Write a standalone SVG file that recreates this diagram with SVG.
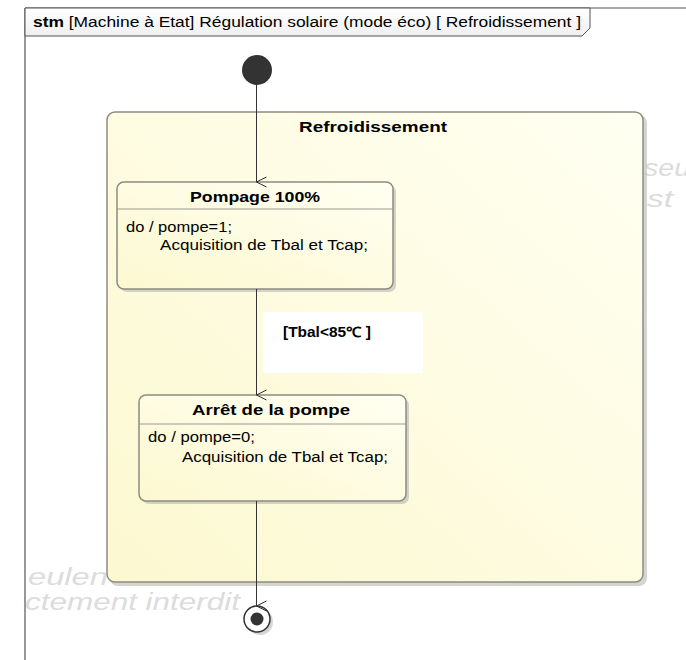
<svg xmlns="http://www.w3.org/2000/svg" width="686" height="660" viewBox="0 0 686 660">
<defs>
<linearGradient id="yel" x1="0" y1="1" x2="1" y2="0">
<stop offset="0" stop-color="#fcf8d0"/>
<stop offset="1" stop-color="#fffff2"/>
</linearGradient>
<linearGradient id="tab" x1="0" y1="0" x2="0" y2="1">
<stop offset="0" stop-color="#ffffff"/>
<stop offset="1" stop-color="#efefef"/>
</linearGradient>
<marker id="arr" viewBox="0 0 12 12" refX="6" refY="11" markerWidth="12" markerHeight="12" markerUnits="userSpaceOnUse" orient="auto-start-reverse">
<path d="M1,1 L6,11 L11,1" fill="none" stroke="#333" stroke-width="1"/>
</marker>
</defs>
<style>
text{font-family:"Liberation Sans",Arial,sans-serif;fill:#000}
.wm{font-style:italic;font-size:24px;fill:#dcdcdc}
.title{font-weight:bold;font-size:15px}
.body{font-size:14px}
.box{fill:url(#yel);stroke:#8c8c80;stroke-width:1.5}
.shadow{fill:#b8b8b0;opacity:0.6}
.div{stroke:#9a9a90;stroke-width:1}
.edge{stroke:#333;stroke-width:1;fill:none}
</style>
<rect width="686" height="660" fill="#fff"/>
<!-- watermark fragments -->
<text class="wm" x="644" y="176" textLength="46" lengthAdjust="spacingAndGlyphs">seu</text>
<text class="wm" x="647" y="207" textLength="26" lengthAdjust="spacingAndGlyphs">st</text>
<text class="wm" x="28" y="585" textLength="80" lengthAdjust="spacingAndGlyphs">eulen</text>
<text class="wm" x="25" y="610" textLength="215" lengthAdjust="spacingAndGlyphs">ctement interdit</text>
<!-- frame -->
<g id="frame">
<path d="M25,8 L686,8 M25,8 L25,660" stroke="#555" stroke-width="1.2" fill="none"/>
<path d="M25,8 L590,8 L590,28 L582,36 L25,36 Z" fill="url(#tab)" stroke="#555" stroke-width="1"/>
<text x="33" y="27" style="font-size:14px" textLength="548" lengthAdjust="spacingAndGlyphs"><tspan font-weight="bold">stm</tspan> [Machine à Etat] Régulation solaire (mode éco) [ Refroidissement ]</text>
</g>
<!-- composite state -->
<g id="refroidissement">
<rect class="shadow" x="110" y="115" width="537" height="471" rx="8"/>
<rect class="box" x="107" y="112" width="536" height="470" rx="8"/>
<text class="title" x="299" y="132" textLength="148" lengthAdjust="spacingAndGlyphs">Refroidissement</text>
</g>
<!-- initial -->
<g id="initial">
<circle cx="257" cy="70" r="15" fill="#333"/>
</g>
<g id="pompage">
<rect class="shadow" x="120" y="185" width="276" height="107" rx="7"/>
<rect class="box" x="117" y="182" width="276" height="107" rx="7"/>
<line class="div" x1="117" y1="209" x2="393" y2="209"/>
<text class="title" x="190" y="202" textLength="130" lengthAdjust="spacingAndGlyphs">Pompage 100%</text>
<text class="body" x="126" y="232" textLength="106" lengthAdjust="spacingAndGlyphs">do / pompe=1;</text>
<text class="body" x="160" y="250" textLength="208" lengthAdjust="spacingAndGlyphs">Acquisition de Tbal et Tcap;</text>
</g>
<g id="arret">
<rect class="shadow" x="142" y="398" width="267" height="106" rx="7"/>
<rect class="box" x="139" y="395" width="267" height="106" rx="7"/>
<line class="div" x1="139" y1="424" x2="406" y2="424"/>
<text class="title" x="192" y="415" textLength="158" lengthAdjust="spacingAndGlyphs">Arrêt de la pompe</text>
<text class="body" x="148" y="442" textLength="107" lengthAdjust="spacingAndGlyphs">do / pompe=0;</text>
<text class="body" x="182" y="462" textLength="206" lengthAdjust="spacingAndGlyphs">Acquisition de Tbal et Tcap;</text>
</g>
<g id="final">
<circle cx="260" cy="622" r="13" fill="#bbb" opacity="0.6"/>
<circle cx="257" cy="619" r="13" fill="#fff" stroke="#333" stroke-width="1.5"/>
<circle cx="257" cy="619" r="6.5" fill="#333"/>
</g>
<g id="connectors">
<line class="edge" x1="256.5" y1="85" x2="256.5" y2="182" marker-end="url(#arr)"/>
<line class="edge" x1="256.5" y1="289" x2="256.5" y2="395" marker-end="url(#arr)"/>
<line class="edge" x1="256.5" y1="501" x2="256.5" y2="606" marker-end="url(#arr)"/>
<rect x="263" y="312" width="160" height="61" fill="#fff"/>
<text x="283" y="337" style="font-size:14px;font-weight:bold" textLength="88" lengthAdjust="spacingAndGlyphs">[Tbal&lt;85℃ ]</text>
</g>
</svg>
